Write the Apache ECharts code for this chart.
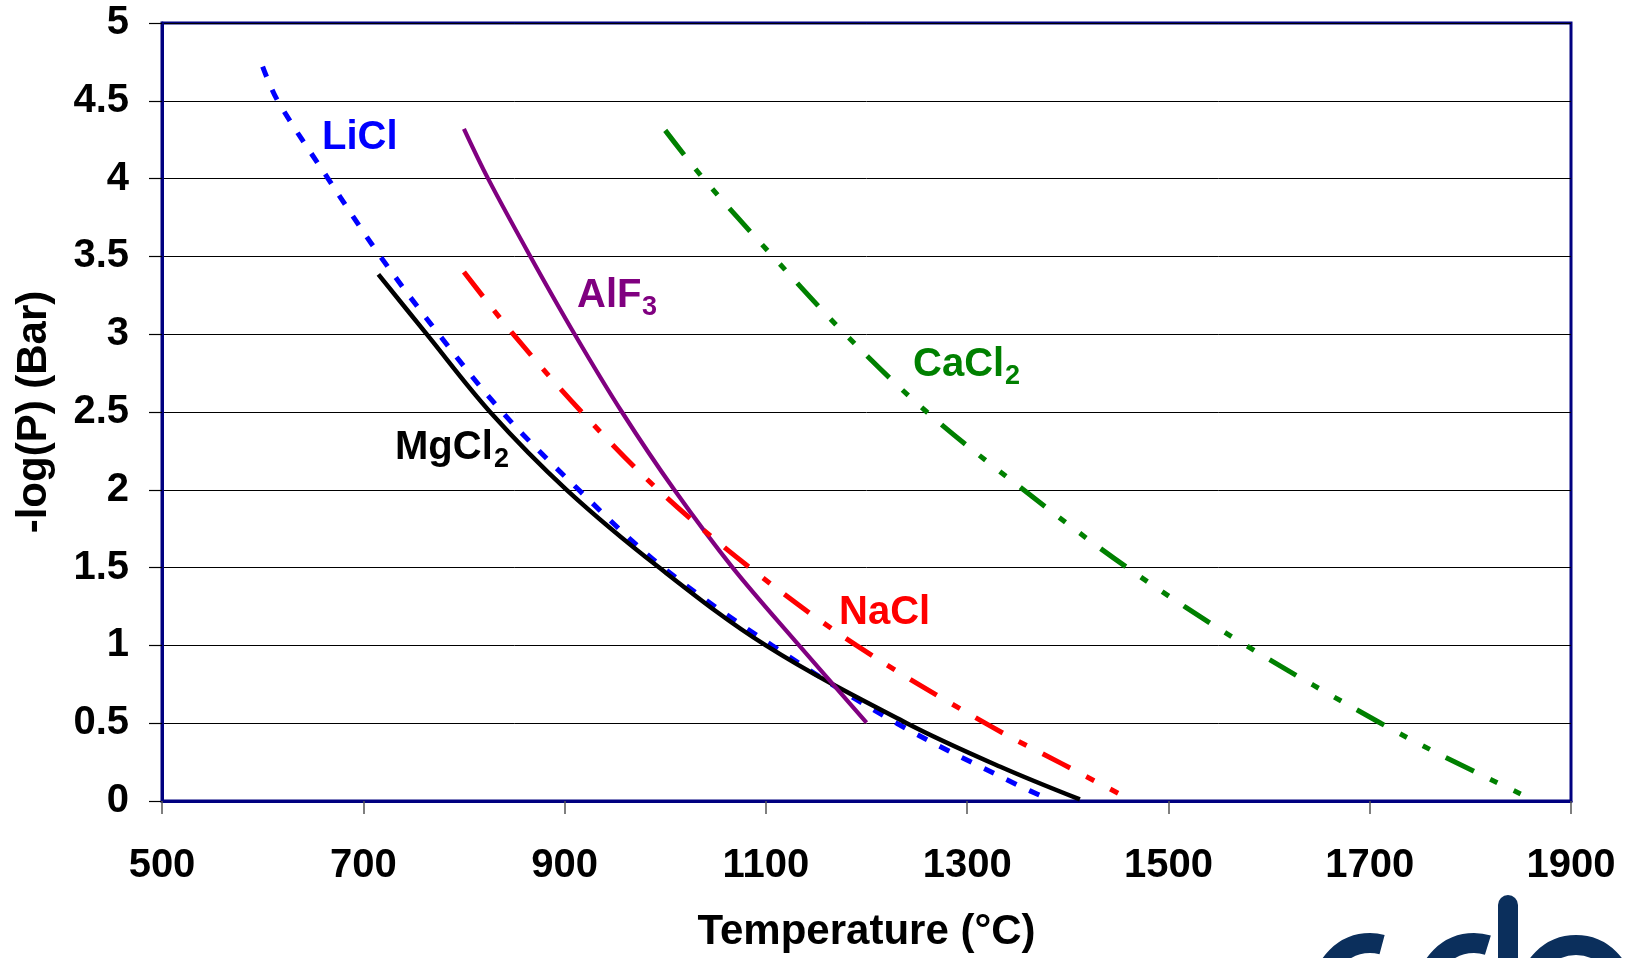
<!DOCTYPE html>
<html>
<head>
<meta charset="utf-8">
<script src="https://cdn.jsdelivr.net/npm/echarts@6/dist/echarts.min.js"></script>
<style>
  html, body { margin: 0; padding: 0; background: #fff; }
  #chart { width: 1634px; height: 958px; }
</style>
</head>
<body>
<div id="chart"></div>
<script>
// ---- Data (temperature °C, -log(P) in bar) ----
const liclT = [600, 615, 665, 717, 775, 838, 914, 998, 1106, 1230, 1351, 1382];
const liclP = [4.72, 4.5, 4.0, 3.5, 3.0, 2.5, 2.0, 1.5, 1.0, 0.5, 0.10, 0.01];

const mgcl2T = [715, 763, 826, 902, 994, 1100, 1240, 1333, 1412];
const mgcl2P = [3.385, 3.0, 2.5, 2.0, 1.5, 1.0, 0.5, 0.22, 0.01];

const alf3T = [800, 824, 866, 910, 957, 1009, 1067, 1133, 1200];
const alf3P = [4.32, 4.0, 3.5, 3.0, 2.5, 2.0, 1.5, 1.0, 0.503];

const naclT = [800, 849, 917, 993, 1084, 1190, 1318, 1394, 1450];
const naclP = [3.40, 3.0, 2.5, 2.0, 1.5, 1.0, 0.5, 0.24, 0.05];

const cacl2T = [1000, 1038, 1107, 1179, 1260, 1356, 1459, 1577, 1711, 1771, 1855];
const cacl2P = [4.31, 4.0, 3.5, 3.0, 2.5, 2.0, 1.5, 1.0, 0.5, 0.295, 0.03];

const xTicks = { min: 500, max: 1900, step: 200 };
const yTicks = { min: 0, max: 5, step: 0.5 };

const xName = 'Temperature (°C)';
const yName = '-log(P) (Bar)';

function pairs(xs, ys) { return xs.map((x, i) => [x, ys[i]]); }

const FONT = "'Liberation Sans', Arial, Helvetica, sans-serif";

const chart = echarts.init(document.getElementById('chart'), null, { renderer: 'canvas' });

function lineSeries(name, xs, ys, color, width, dash) {
  return {
    name: name,
    type: 'line',
    data: pairs(xs, ys),
    showSymbol: false,
    symbol: 'none',
    smooth: 0.35,
    animation: false,
    lineStyle: { color: color, width: width, type: dash, cap: 'butt' },
    z: 3
  };
}

function label(main, sub, x, y, color, subDx, subDy) {
  const els = [{
    type: 'text', x: x, y: y, z: 10,
    style: { text: main, fill: color, font: 'bold 40px ' + FONT, textVerticalAlign: 'middle', textAlign: 'left' }
  }];
  if (sub) {
    els.push({
      type: 'text', x: x + subDx, y: y + subDy, z: 10,
      style: { text: sub, fill: color, font: 'bold 27px ' + FONT, textVerticalAlign: 'middle', textAlign: 'left' }
    });
  }
  return els;
}

const logoColor = '#0b2f5c';

const option = {
  backgroundColor: '#ffffff',
  animation: false,
  grid: {
    left: 162, right: 63, top: 23, bottom: 155,
    show: true, borderColor: '#000080', borderWidth: 3, backgroundColor: 'transparent'
  },
  xAxis: {
    type: 'value',
    min: xTicks.min, max: xTicks.max, interval: xTicks.step,
    name: xName, nameLocation: 'middle', nameGap: 110,
    nameTextStyle: { fontFamily: FONT, fontWeight: 'bold', fontSize: 42, color: '#000' },
    axisLine: { show: true, lineStyle: { color: '#000080', width: 3 } },
    axisTick: { show: true, inside: false, length: 13, lineStyle: { color: '#555', width: 1.5 } },
    axisLabel: { margin: 45, fontFamily: FONT, fontWeight: 'bold', fontSize: 40, color: '#000',
                 formatter: function (v) { return String(v); } },
    splitLine: { show: false }
  },
  yAxis: {
    type: 'value',
    min: yTicks.min, max: yTicks.max, interval: yTicks.step,
    name: yName, nameLocation: 'middle', nameGap: 107, nameRotate: 90,
    nameTextStyle: { fontFamily: FONT, fontWeight: 'bold', fontSize: 42, color: '#000' },
    axisLine: { show: true, lineStyle: { color: '#000080', width: 3 } },
    axisTick: { show: true, inside: false, length: 13, lineStyle: { color: '#000', width: 1.2 } },
    axisLabel: { margin: 33, fontFamily: FONT, fontWeight: 'bold', fontSize: 40, color: '#000',
                 formatter: function (v) { return String(v); } },
    splitLine: { show: true, lineStyle: { color: '#000', width: 1 } }
  },
  series: [
    lineSeries('LiCl', liclT, liclP, '#0000FF', 5, [11, 14]),
    lineSeries('MgCl2', mgcl2T, mgcl2P, '#000000', 4.5, 'solid'),
    lineSeries('AlF3', alf3T, alf3P, '#800080', 4.2, 'solid'),
    lineSeries('NaCl', naclT, naclP, '#FF0000', 5, [31, 18, 9, 18]),
    lineSeries('CaCl2', cacl2T, cacl2P, '#008000', 5, [31, 18, 8, 18, 8, 18])
  ],
  graphic: [].concat(
    label('LiCl', null, 322, 138, '#0000FF'),
    label('MgCl', '2', 395, 448, '#000000', 99, 12),
    label('AlF', '3', 577, 296, '#800080', 65, 12),
    label('CaCl', '2', 913, 365, '#008000', 92, 12),
    label('NaCl', null, 839, 613, '#FF0000'),
    [
      { type: 'arc', z: 10, shape: { cx: 1370, cy: 990, r: 47, startAngle: Math.PI, endAngle: 1.5 * Math.PI + 0.26, clockwise: true },
        style: { stroke: logoColor, lineWidth: 20, fill: null, lineCap: 'butt' } },
      { type: 'arc', z: 10, shape: { cx: 1474, cy: 990, r: 47, startAngle: Math.PI, endAngle: 1.5 * Math.PI + 0.3, clockwise: true },
        style: { stroke: logoColor, lineWidth: 20, fill: null, lineCap: 'butt' } },
      { type: 'rect', z: 10, shape: { x: 1498, y: 895, width: 20, height: 80, r: [10, 10, 0, 0] },
        style: { fill: logoColor } },
      { type: 'arc', z: 10, shape: { cx: 1576, cy: 992, r: 47, startAngle: Math.PI, endAngle: 2 * Math.PI, clockwise: true },
        style: { stroke: logoColor, lineWidth: 20, fill: null, lineCap: 'butt' } }
    ]
  )
};

chart.setOption(option);
</script>
</body>
</html>
